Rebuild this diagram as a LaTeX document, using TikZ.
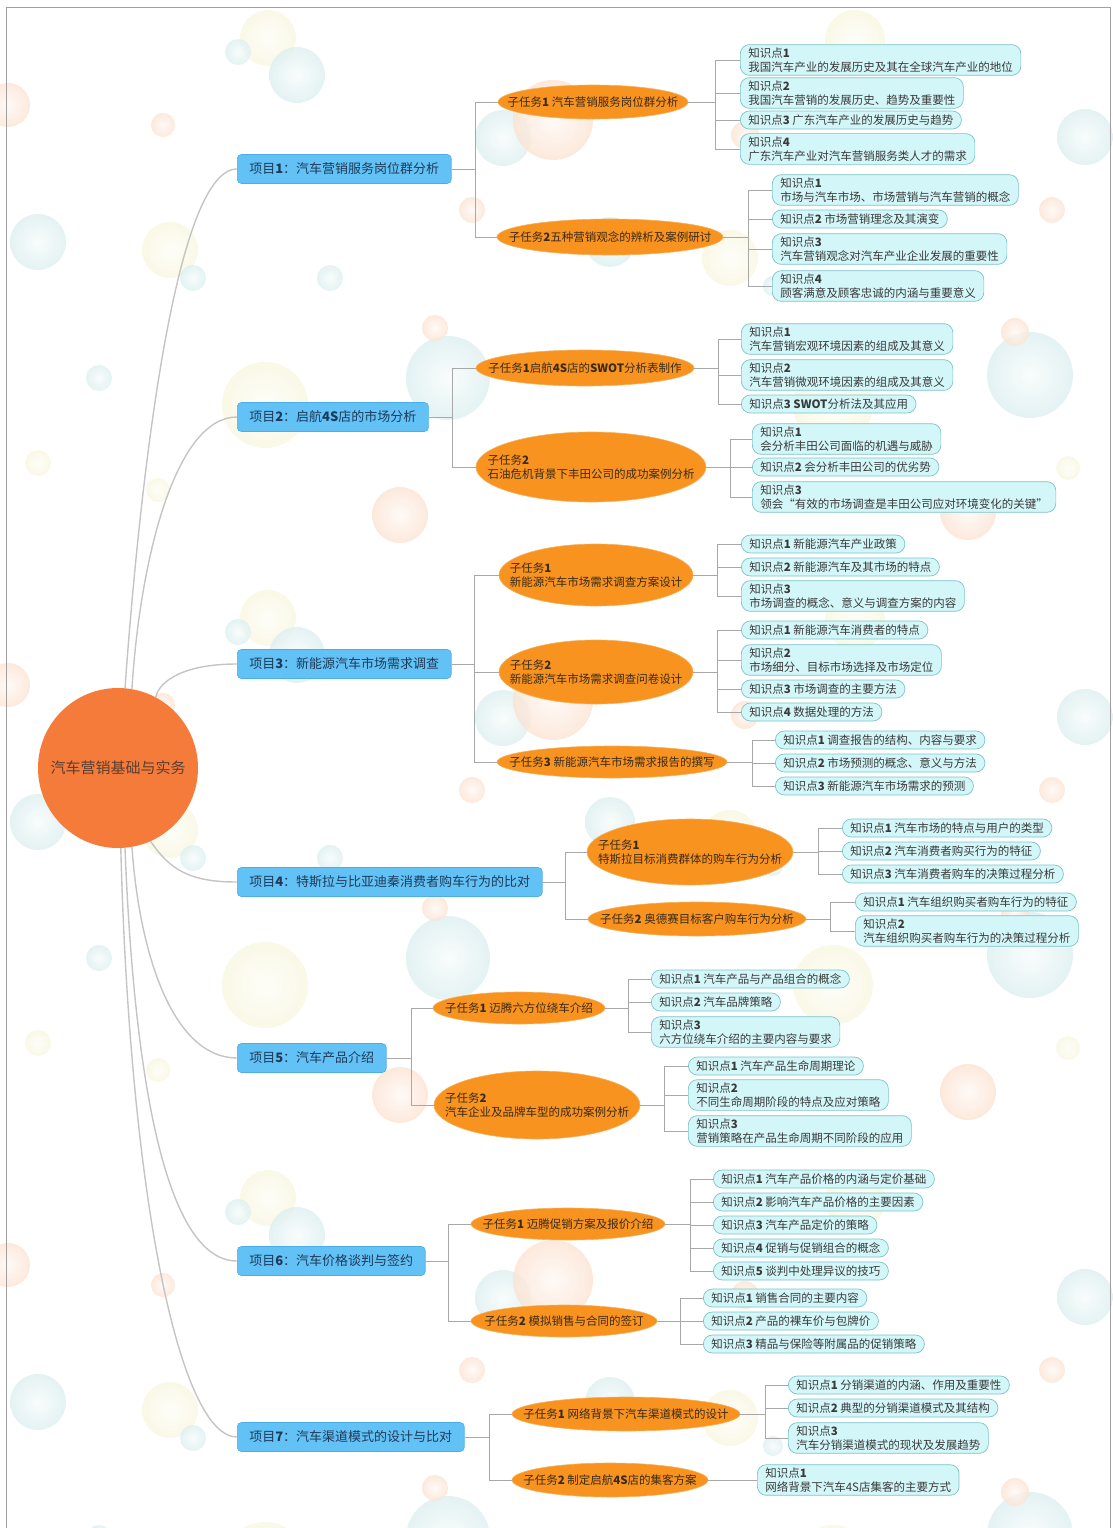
\documentclass[tikz,border=0pt]{standalone}
\usepackage{fontspec}
\setmainfont{Noto Sans CJK SC}
\usetikzlibrary{shapes.geometric}
\definecolor{projfill}{HTML}{62C2F5}
\definecolor{projdraw}{HTML}{4BAEE6}
\definecolor{projtext}{HTML}{1E3A5A}
\definecolor{subfill}{HTML}{F7931E}
\definecolor{subdraw}{HTML}{F4B25E}
\definecolor{subtext}{HTML}{3B2A1A}
\definecolor{kpfill}{HTML}{D3F6F8}
\definecolor{kpdraw}{HTML}{7CC4C8}
\definecolor{kptext}{HTML}{3A3A3A}
\definecolor{rootfill}{HTML}{F47B3A}
\definecolor{roottext}{HTML}{5A3E2E}
\definecolor{curvecol}{HTML}{C4C4C4}
\definecolor{brcol}{HTML}{A8A8A8}
\definecolor{framecol}{HTML}{A0A0A0}
\definecolor{bT}{HTML}{ADD8DA}
\definecolor{bY}{HTML}{EFEBB4}
\definecolor{bO}{HTML}{F6BC94}
\colorlet{bTm}{bT!45!white}
\colorlet{bYm}{bY!45!white}
\colorlet{bOm}{bO!45!white}
\pgfdeclareradialshading{bubT}{\pgfpoint{0bp}{0bp}}{color(0bp)=(bT!10!white); color(28bp)=(bTm); color(47bp)=(bT); color(50bp)=(bT); color(100bp)=(bT)}
\pgfdeclareradialshading{bubY}{\pgfpoint{0bp}{0bp}}{color(0bp)=(bY!10!white); color(28bp)=(bYm); color(47bp)=(bY); color(50bp)=(bY); color(100bp)=(bY)}
\pgfdeclareradialshading{bubO}{\pgfpoint{0bp}{0bp}}{color(0bp)=(bO!10!white); color(28bp)=(bOm); color(47bp)=(bO); color(50bp)=(bO); color(100bp)=(bO)}
\tikzset{
  rootnode/.style={circle, fill=rootfill, minimum size=160pt, inner sep=0pt, text=roottext, font=\fontsize{15}{18}\selectfont},
  proj/.style={rectangle, rounded corners=4pt, fill=projfill, draw=projdraw, line width=0.6pt, minimum height=29pt, inner xsep=12pt, anchor=west, text=projtext, font=\fontsize{13}{16}\selectfont},
  subell/.style={ellipse, fill=subfill, draw=subdraw, line width=0.6pt, inner sep=0pt},
  subtxt/.style={text=subtext, align=left, font=\fontsize{11.5}{14}\selectfont, inner sep=0pt},
  kp/.style={rectangle, rounded corners=9pt, fill=kpfill, draw=kpdraw, line width=0.7pt, anchor=west, align=left, inner xsep=8pt, inner ysep=3pt, minimum height=18pt, text=kptext, font=\fontsize{11.5}{14}\selectfont},
  rootlink/.style={draw=curvecol, line width=1.4pt},
  br/.style={draw=brcol, line width=0.7pt},
}
\begin{document}
\begin{tikzpicture}[x=1pt, y=-1pt]
\useasboundingbox (0,0) rectangle (1112,1528);
% background bubbles
\foreach \off in {0,580,1160}{
  \foreach \bx/\by/\br in {268/38/28, 855/40/30, 170/250/28, 730/258/28, 265/405/43, 38/463/13, 158/490/12, 1068/468/12, 833/405/40}
    \shade[shading=bubY, opacity=0.8] (\bx,\by+\off) circle (\br pt);
  \foreach \bx/\by/\br in {238/52/13, 297/75/28, 503/138/28, 1085/137/28, 38/242/28, 193/278/13, 330/278/13, 610/242/25, 773/286/10, 448/378/42, 1030/375/43, 99/378/13}
    \shade[shading=bubT, opacity=0.8] (\bx,\by+\off) circle (\br pt);
  \foreach \bx/\by/\br in {8/105/22, 163/125/12, 553/120/40, 745/135/14, 472/210/13, 1052/210/13, 435/328/13, 1015/332/14, 400/515/28, 968/512/28}
    \shade[shading=bubO, opacity=0.8] (\bx,\by+\off) circle (\br pt);
}
\draw[framecol, line width=0.8pt] (6,1540) -- (6,7) -- (1110,7) -- (1110,1540);

% root and projects
\node[rootnode] (root) at (118,768) {汽车营销基础与实务};
\node[proj] (p1) at (237,169) {项目\textbf{1}：汽车营销服务岗位群分析};
\node[proj] (p2) at (237,417) {项目\textbf{2}：启航\textbf{4S}店的市场分析};
\node[proj] (p3) at (237,664) {项目\textbf{3}：新能源汽车市场需求调查};
\node[proj] (p4) at (237,882) {项目\textbf{4}：特斯拉与比亚迪秦消费者购车行为的比对};
\node[proj] (p5) at (237,1058) {项目\textbf{5}：汽车产品介绍};
\node[proj] (p6) at (237,1261) {项目\textbf{6}：汽车价格谈判与签约};
\node[proj] (p7) at (237,1437) {项目\textbf{7}：汽车渠道模式的设计与比对};

% subtasks
\node[subell, minimum width=190pt, minimum height=34pt] (s11) at (593,102) {};
\node[subtxt] (s11t) at (s11) {子任务\textbf{1} 汽车营销服务岗位群分析};
\node[subell, minimum width=226pt, minimum height=36pt] (s12) at (610,237) {};
\node[subtxt] (s12t) at (s12) {子任务\textbf{2}五种营销观念的辨析及案例研讨};
\node[subell, minimum width=218pt, minimum height=36pt] (s21) at (585,368) {};
\node[subtxt] (s21t) at (s21) {子任务\textbf{1}启航\textbf{4S}店的\textbf{SWOT}分析表制作};
\node[subell, minimum width=230pt, minimum height=70pt] (s22) at (591,467) {};
\node[subtxt] (s22t) at (s22) {子任务\textbf{2}\\石油危机背景下丰田公司的成功案例分析};
\node[subell, minimum width=194pt, minimum height=62pt] (s31) at (596,575) {};
\node[subtxt] (s31t) at (s31) {子任务\textbf{1}\\新能源汽车市场需求调查方案设计};
\node[subell, minimum width=194pt, minimum height=64pt] (s32) at (596,672) {};
\node[subtxt] (s32t) at (s32) {子任务\textbf{2}\\新能源汽车市场需求调查问卷设计};
\node[subell, minimum width=230pt, minimum height=32pt] (s33) at (612,762) {};
\node[subtxt] (s33t) at (s33) {子任务\textbf{3} 新能源汽车市场需求报告的撰写};
\node[subell, minimum width=206pt, minimum height=66pt] (s41) at (690,852) {};
\node[subtxt] (s41t) at (s41) {子任务\textbf{1}\\特斯拉目标消费群体的购车行为分析};
\node[subell, minimum width=218pt, minimum height=34pt] (s42) at (697,919) {};
\node[subtxt] (s42t) at (s42) {子任务\textbf{2} 奥德赛目标客户购车行为分析};
\node[subell, minimum width=172pt, minimum height=32pt] (s51) at (519,1008) {};
\node[subtxt] (s51t) at (s51) {子任务\textbf{1} 迈腾六方位绕车介绍};
\node[subell, minimum width=206pt, minimum height=68pt] (s52) at (537,1105) {};
\node[subtxt] (s52t) at (s52) {子任务\textbf{2}\\汽车企业及品牌车型的成功案例分析};
\node[subell, minimum width=194pt, minimum height=32pt] (s61) at (568,1224) {};
\node[subtxt] (s61t) at (s61) {子任务\textbf{1} 迈腾促销方案及报价介绍};
\node[subell, minimum width=186pt, minimum height=32pt] (s62) at (564,1321) {};
\node[subtxt] (s62t) at (s62) {子任务\textbf{2} 模拟销售与合同的签订};
\node[subell, minimum width=228pt, minimum height=34pt] (s71) at (626,1414) {};
\node[subtxt] (s71t) at (s71) {子任务\textbf{1} 网络背景下汽车渠道模式的设计};
\node[subell, minimum width=196pt, minimum height=34pt] (s72) at (610,1480) {};
\node[subtxt] (s72t) at (s72) {子任务\textbf{2} 制定启航\textbf{4S}店的集客方案};

% knowledge points
\node[kp] (k111) at (740,60) {知识点\textbf{1}\\我国汽车产业的发展历史及其在全球汽车产业的地位};
\node[kp] (k112) at (740,93) {知识点\textbf{2}\\我国汽车营销的发展历史、趋势及重要性};
\node[kp] (k113) at (740,120) {知识点\textbf{3} 广东汽车产业的发展历史与趋势};
\node[kp] (k114) at (740,149) {知识点\textbf{4}\\广东汽车产业对汽车营销服务类人才的需求};
\node[kp] (k121) at (772,190) {知识点\textbf{1}\\市场与汽车市场、市场营销与汽车营销的概念};
\node[kp] (k122) at (772,219) {知识点\textbf{2} 市场营销理念及其演变};
\node[kp] (k123) at (772,249) {知识点\textbf{3}\\汽车营销观念对汽车产业企业发展的重要性};
\node[kp] (k124) at (772,286) {知识点\textbf{4}\\顾客满意及顾客忠诚的内涵与重要意义};

\node[kp] (k211) at (741,339) {知识点\textbf{1}\\汽车营销宏观环境因素的组成及其意义};
\node[kp] (k212) at (741,375) {知识点\textbf{2}\\汽车营销微观环境因素的组成及其意义};
\node[kp] (k213) at (741,404) {知识点\textbf{3} \textbf{SWOT}分析法及其应用};
\node[kp] (k221) at (752,439) {知识点\textbf{1}\\会分析丰田公司面临的机遇与威胁};
\node[kp] (k222) at (752,467) {知识点\textbf{2} 会分析丰田公司的优劣势};
\node[kp] (k223) at (752,497) {知识点\textbf{3}\\领会“有效的市场调查是丰田公司应对环境变化的关键”};

\node[kp] (k311) at (741,544) {知识点\textbf{1} 新能源汽车产业政策};
\node[kp] (k312) at (741,567) {知识点\textbf{2} 新能源汽车及其市场的特点};
\node[kp] (k313) at (741,596) {知识点\textbf{3}\\市场调查的概念、意义与调查方案的内容};
\node[kp] (k321) at (741,630) {知识点\textbf{1} 新能源汽车消费者的特点};
\node[kp] (k322) at (741,660) {知识点\textbf{2}\\市场细分、目标市场选择及市场定位};
\node[kp] (k323) at (741,689) {知识点\textbf{3} 市场调查的主要方法};
\node[kp] (k324) at (741,712) {知识点\textbf{4} 数据处理的方法};
\node[kp] (k331) at (775,740) {知识点\textbf{1} 调查报告的结构、内容与要求};
\node[kp] (k332) at (775,763) {知识点\textbf{2} 市场预测的概念、意义与方法};
\node[kp] (k333) at (775,786) {知识点\textbf{3} 新能源汽车市场需求的预测};

\node[kp] (k411) at (842,828) {知识点\textbf{1} 汽车市场的特点与用户的类型};
\node[kp] (k412) at (842,851) {知识点\textbf{2} 汽车消费者购买行为的特征};
\node[kp] (k413) at (842,874) {知识点\textbf{3} 汽车消费者购车的决策过程分析};
\node[kp] (k421) at (855,902) {知识点\textbf{1} 汽车组织购买者购车行为的特征};
\node[kp] (k422) at (855,931) {知识点\textbf{2}\\汽车组织购买者购车行为的决策过程分析};

\node[kp] (k511) at (651,979) {知识点\textbf{1} 汽车产品与产品组合的概念};
\node[kp] (k512) at (651,1002) {知识点\textbf{2} 汽车品牌策略};
\node[kp] (k513) at (651,1032) {知识点\textbf{3}\\六方位绕车介绍的主要内容与要求};
\node[kp] (k521) at (688,1066) {知识点\textbf{1} 汽车产品生命周期理论};
\node[kp] (k522) at (688,1095) {知识点\textbf{2}\\不同生命周期阶段的特点及应对策略};
\node[kp] (k523) at (688,1131) {知识点\textbf{3}\\营销策略在产品生命周期不同阶段的应用};

\node[kp] (k611) at (713,1179) {知识点\textbf{1} 汽车产品价格的内涵与定价基础};
\node[kp] (k612) at (713,1202) {知识点\textbf{2} 影响汽车产品价格的主要因素};
\node[kp] (k613) at (713,1225) {知识点\textbf{3} 汽车产品定价的策略};
\node[kp] (k614) at (713,1248) {知识点\textbf{4} 促销与促销组合的概念};
\node[kp] (k615) at (713,1271) {知识点\textbf{5} 谈判中处理异议的技巧};
\node[kp] (k621) at (703,1298) {知识点\textbf{1} 销售合同的主要内容};
\node[kp] (k622) at (703,1321) {知识点\textbf{2} 产品的裸车价与包牌价};
\node[kp] (k623) at (703,1344) {知识点\textbf{3} 精品与保险等附属品的促销策略};

\node[kp] (k711) at (788,1385) {知识点\textbf{1} 分销渠道的内涵、作用及重要性};
\node[kp] (k712) at (788,1408) {知识点\textbf{2} 典型的分销渠道模式及其结构};
\node[kp] (k713) at (788,1438) {知识点\textbf{3}\\汽车分销渠道模式的现状及发展趋势};
\node[kp] (k721) at (757,1480) {知识点\textbf{1}\\网络背景下汽车4S店集客的主要方式};

% root links
\draw[rootlink] (root.85) .. controls (140,480) and (175,169) .. (p1.west);
\draw[rootlink] (root.80) .. controls (140,560) and (175,417) .. (p2.west);
\draw[rootlink] (root.62) .. controls (160,680) and (185,664) .. (p3.west);
\draw[rootlink] (root.-66) .. controls (170,870) and (190,882) .. (p4.west);
\draw[rootlink] (root.-80) .. controls (140,960) and (175,1058) .. (p5.west);
\draw[rootlink] (root.-85) .. controls (135,1100) and (170,1261) .. (p6.west);
\draw[rootlink] (root.-88) .. controls (130,1200) and (180,1437) .. (p7.west);

% bracket junctions
\coordinate (jp1) at (475,169);
\coordinate (jp2) at (452,417);
\coordinate (jp3) at (474,664);
\coordinate (jp4) at (565,882);
\coordinate (jp5) at (411,1058);
\coordinate (jp6) at (448,1261);
\coordinate (jp7) at (489,1437);
\coordinate (j11) at (715,102);
\coordinate (j12) at (748,237);
\coordinate (j21) at (718,368);
\coordinate (j22) at (730,467);
\coordinate (j31) at (717,575);
\coordinate (j32) at (717,672);
\coordinate (j33) at (752,762);
\coordinate (j41) at (818,852);
\coordinate (j42) at (830,919);
\coordinate (j51) at (628,1008);
\coordinate (j52) at (664,1105);
\coordinate (j61) at (690,1224);
\coordinate (j62) at (680,1321);
\coordinate (j71) at (765,1414);

\foreach \pn/\jn/\kids in {
  p1/jp1/{s11,s12}, p2/jp2/{s21,s22}, p3/jp3/{s31,s32,s33}, p4/jp4/{s41,s42},
  p5/jp5/{s51,s52}, p6/jp6/{s61,s62}, p7/jp7/{s71,s72},
  s11/j11/{k111,k112,k113,k114}, s12/j12/{k121,k122,k123,k124},
  s21/j21/{k211,k212,k213}, s22/j22/{k221,k222,k223},
  s31/j31/{k311,k312,k313}, s32/j32/{k321,k322,k323,k324}, s33/j33/{k331,k332,k333},
  s41/j41/{k411,k412,k413}, s42/j42/{k421,k422},
  s51/j51/{k511,k512,k513}, s52/j52/{k521,k522,k523},
  s61/j61/{k611,k612,k613,k614,k615}, s62/j62/{k621,k622,k623},
  s71/j71/{k711,k712,k713}}{
  \draw[br] (\pn.east) -- (\jn);
  \foreach \c in \kids { \draw[br] (\jn) |- (\c.west); }
}
\draw[br] (s72.east) -- (k721.west);
\end{tikzpicture}
\end{document}
